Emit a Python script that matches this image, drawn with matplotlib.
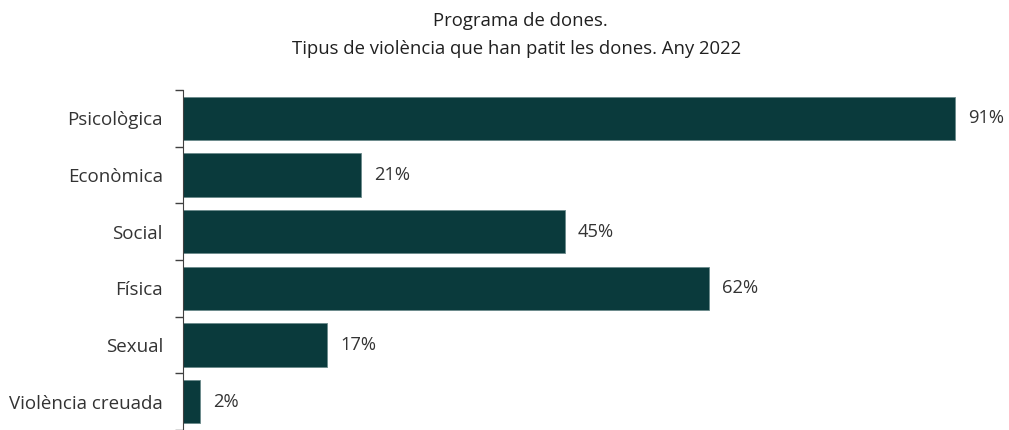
import matplotlib.pyplot as plt
import numpy as np

categories = ['Psicològica', 'Econòmica', 'Social', 'Física', 'Sexual', 'Violència creuada']
values = [91, 21, 45, 62, 17, 2]
value_labels = ['91%', '21%', '45%', '62%', '17%', '2%']

bar_color = '#0a3a3c'
text_color = '#333333'
plt.rcParams['font.family'] = ['Open Sans', 'DejaVu Sans']

fig = plt.figure(figsize=(10.09, 4.30), dpi=100)
ax = fig.add_axes([183 / 1009, 0.0, 97 * 8.484 / 1009, (430 - 90) / 430])

n = len(categories)
ypos = np.arange(n)[::-1]
ax.barh(ypos, values, height=0.76, color=bar_color, edgecolor='#6a8a8a', linewidth=0.6)

for y, v, lab in zip(ypos, values, value_labels):
    ax.text(v + 1.5, y, lab, va='center', ha='left', fontsize=13.2, color=text_color)

ax.set_xlim(0, 97)
ax.set_ylim(n - 0.5 - 340 / 57.7, n - 0.5)
ax.set_yticks(ypos)
ax.set_yticklabels(categories, fontsize=13.5, color=text_color)
ax.tick_params(axis='y', which='major', length=0, pad=14.5)
ax.set_yticks(np.arange(n + 1) - 0.5, minor=True)
ax.tick_params(axis='y', which='minor', length=6, color='#404040', width=1)
ax.set_xticks([])
for s in ['top', 'right', 'bottom']:
    ax.spines[s].set_visible(False)
ax.spines['left'].set_color('#404040')

fig.text(0.516, 1 - 21 / 430, 'Programa de dones.', ha='center', va='center', fontsize=13.3, color='#202020')
fig.text(0.512, 1 - 49 / 430, 'Tipus de violència que han patit les dones. Any 2022', ha='center', va='center', fontsize=13.3, color='#202020')

fig.savefig('out.png', dpi=100)
